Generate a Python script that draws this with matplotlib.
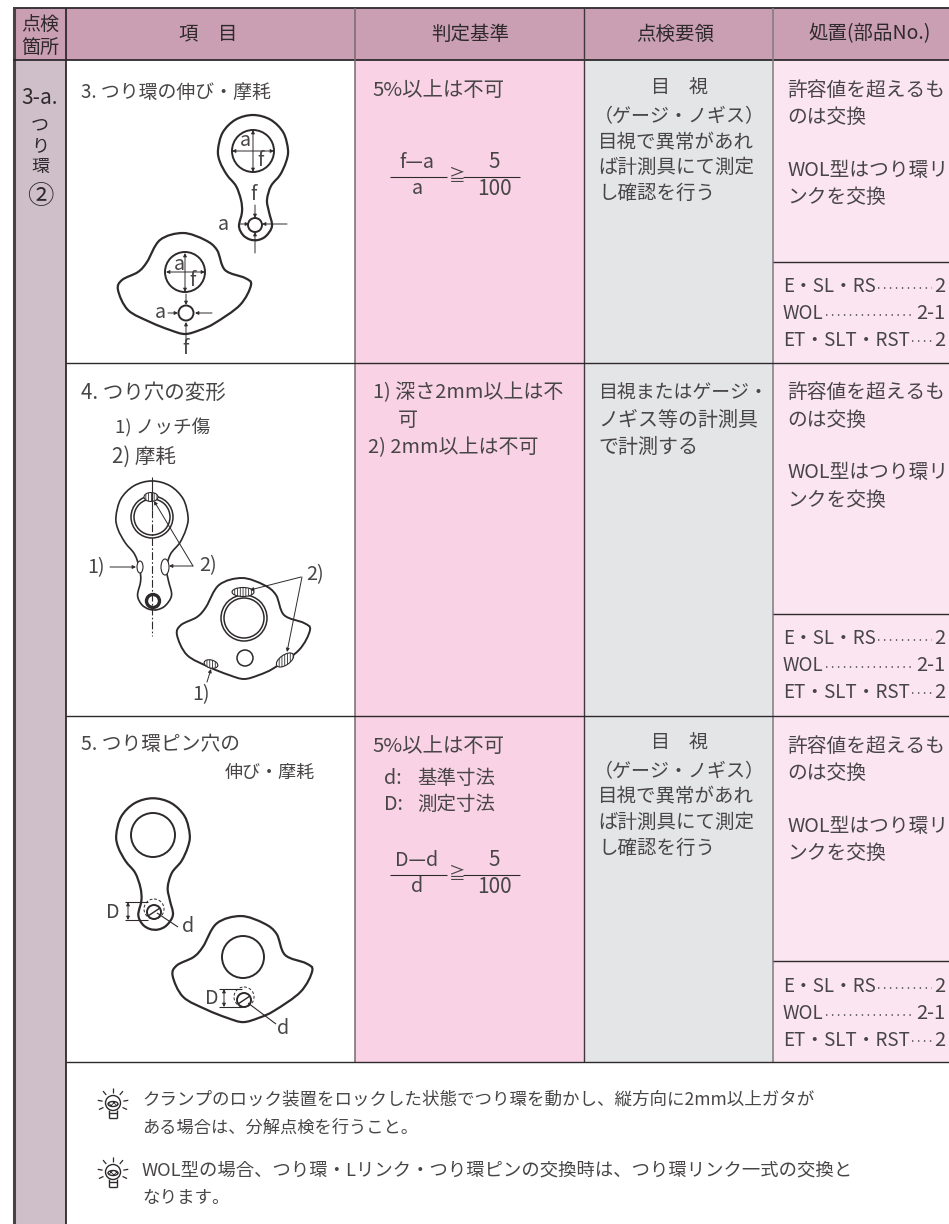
import numpy as np
import matplotlib
matplotlib.use("Agg")
import matplotlib.pyplot as plt
from matplotlib.path import Path
from matplotlib.patches import PathPatch, Circle, Ellipse, Rectangle

plt.rcParams['font.family'] = ['Noto Sans CJK JP', 'DejaVu Sans']
plt.rcParams['hatch.linewidth'] = 0.6

# table text
headers = ["項　目", "判定基準", "点検要領", "処置(部品No.)"]
place_labels = ["つ", "り", "環"]
item_titles = ["3. つり環の伸び・摩耗", "4. つり穴の変形", "5. つり環ピン穴の"]
visual_check = ["（ゲージ・ノギス）", "目視で異常があれ", "ば計測具にて測定", "し確認を行う"]
gauge_check = ["目視またはゲージ・", "ノギス等の計測具", "で計測する"]
action_lines = ["許容値を超えるも", "のは交換", "WOL型はつり環リ", "ンクを交換"]
parts_names = ["E・SL・RS", "WOL", "ET・SLT・RST"]
parts_numbers = ["2", "2-1", "2"]
note_lines = ["クランプのロック装置をロックした状態でつり環を動かし、縦方向に2mm以上ガタが",
              "ある場合は、分解点検を行うこと。",
              "WOL型の場合、つり環・Lリンク・つり環ピンの交換時は、つり環リンク一式の交換と",
              "なります。"]

INK = "#484547"
DARK = "#2E2A2C"
HEAD = "#CB9FB3"
SIDE = "#CFBFC8"
PINK = "#F9D3E5"
GREY = "#E4E5E7"
PALE = "#FBE5F0"
LINE = "#2E2A2C"
FS = 14.2

# outlines, relative to the large hole
ring_outline = [(0, -35), (-17.5, -30.3), (-30.3, -17.5), (-35, 0), (-33, 12), (-26, 25), (-17, 36),
                (-12, 50), (-11, 62), (-14, 76), (-10, 85), (-3, 89.5), (5, 90), (13, 86), (19, 76),
                (16, 62), (14, 50), (18, 36), (27, 25), (33, 12), (35, 0), (30.3, -17.5), (17.5, -30.3)]
fan_outline = [(-2, -39), (-25, -32), (-38, -10), (-47, 0), (-63, 8), (-67, 18), (-57, 38), (-35, 50),
               (-15, 58), (0, 62), (15, 58), (30, 51), (55, 33), (66, 13), (60, 6), (40, -2),
               (32, -22), (20, -32)]

fig = plt.figure(figsize=(9.49, 12.24), dpi=100)
ax = fig.add_axes([0, 0, 1, 1])
ax.set_xlim(0, 949)
ax.set_ylim(1224, 0)
ax.axis("off")


def rect(x0, y0, x1, y1, color):
    ax.add_patch(Rectangle((x0, y0), x1 - x0, y1 - y0, fc=color, ec="none", zorder=0))


def txt(x, y, s, ha="left", size=FS, **kw):
    return ax.text(x, y, s, ha=ha, va="center", fontsize=size, color=kw.pop("color", INK), **kw)


def line(x0, y0, x1, y1, lw=0.8, color=LINE, **kw):
    ax.plot([x0, x1], [y0, y1], color=color, lw=lw, solid_capstyle="butt", **kw)


def arrow(x0, y0, x1, y1, both=False):
    ax.annotate("", xy=(x1, y1), xytext=(x0, y0),
                arrowprops=dict(arrowstyle="<|-|>" if both else "-|>", lw=0.7, color=LINE,
                                mutation_scale=5, shrinkA=0, shrinkB=0))


def smooth(points, cx, cy, scale=1.0, lw=1.6):
    pts = np.array(points, dtype=float) * scale + (cx, cy)
    n = len(pts)
    verts = [pts[0]]
    codes = [Path.MOVETO]
    for i in range(n):
        p0, p1, p2, p3 = pts[i - 1], pts[i], pts[(i + 1) % n], pts[(i + 2) % n]
        verts += [p1 + (p2 - p0) / 6, p2 - (p3 - p1) / 6, p2]
        codes += [Path.CURVE4] * 3
    ax.add_patch(PathPatch(Path(verts, codes), fc="none", ec=LINE, lw=lw))


def circle(x, y, r, lw=1.4, **kw):
    ax.add_patch(Circle((x, y), r, fc=kw.pop("fc", "none"), ec=LINE, lw=lw, **kw))


def fraction(cx, y, top, bottom):
    txt(cx, y - 15, top, ha="center")
    txt(cx, y + 12, bottom, ha="center")
    line(cx - 27, y, cx + 30, y)
    txt(cx + 39, y - 1, "≧", ha="center", size=12)
    txt(cx + 77, y - 15, "5", ha="center", size=15)
    txt(cx + 77, y + 12, "100", ha="center", size=15)
    line(cx + 46, y, cx + 103, y)


def parts(y0):
    r = fig.canvas.get_renderer()
    for i, (name, no) in enumerate(zip(parts_names, parts_numbers)):
        y = y0 + i * 26.5
        t = txt(783, y, name, size=13.5)
        n = txt(945, y, no, ha="right", size=14.5)
        x0 = t.get_window_extent(r).x1 + 2
        x1 = n.get_window_extent(r).x0 - 2
        ax.plot([x0, x1], [y + 1, y + 1], color=INK, lw=1.1, ls=(0, (0.9, 3.0)))


def bulb(x, y):
    circle(x, y, 7.5, lw=1.0)
    ax.add_patch(Ellipse((x, y + 1), 10, 5, fc="none", ec=LINE, lw=1.0, hatch="xxxxxx"))
    line(x - 4, y + 7, x - 4, y + 15, lw=1.0)
    line(x + 4, y + 7, x + 4, y + 15, lw=1.0)
    line(x - 4, y + 15, x + 4, y + 15, lw=1.0)
    line(x - 4, y + 10, x + 4, y + 10, lw=1.0)
    for a in [-90, -50, -130, -10, -170, 25, 155]:
        c, s = np.cos(np.radians(a)), np.sin(np.radians(a))
        line(x + 10.5 * c, y + 10.5 * s, x + 15.5 * c, y + 15.5 * s, lw=0.9)


def hatch(x, y, w, h, angle=0):
    ax.add_patch(Ellipse((x, y), w, h, angle=angle, fc="white", ec=LINE, lw=0.8, hatch="||||||"))


# backgrounds
rect(13, 8, 949, 60, HEAD)
rect(13, 60, 66, 1224, SIDE)
rect(355, 60, 584, 1062, PINK)
rect(584, 60, 773, 1062, GREY)
rect(773, 60, 949, 1062, PALE)

# rules
line(13, 8, 949, 8, lw=1.3)
line(14, 8, 14, 1224, lw=2.2, color="#4A4145")
line(66, 8, 66, 1224, lw=1.3)
line(13, 60, 949, 60, lw=1.3)
line(355, 8, 355, 1062, lw=1.1, color="#75696E")
line(584, 8, 584, 1062, lw=1.0, color="#3E383B")
line(773, 8, 773, 1062, lw=1.1, color="#7F7A7C")
for y in [363, 716, 1062]:
    line(66, y, 949, y, lw=1.0)
for y in [262, 614, 961]:
    line(773, y, 949, y, lw=1.0)

# header and first column
txt(40, 25, "点検", ha="center", size=13.7, color=DARK)
txt(40, 47, "箇所", ha="center", size=13.7, color=DARK)
for x, h in zip([208, 470, 675, 870], headers):
    txt(x, 34, h, ha="center", size=14, color=DARK)
txt(40, 98, "3-a.", ha="center", size=15, color=DARK)
for y, s in zip([125, 146, 167], place_labels):
    txt(40, y, s, ha="center", size=13, color=DARK)
txt(40, 197, "②", ha="center", size=19, color=DARK)

# items
txt(81, 92, item_titles[0], size=13.6)
txt(81, 393, item_titles[1], size=14.8)
txt(115, 428, "1) ノッチ傷", size=13.4)
txt(112, 457, "2) 摩耗", size=14.8)
txt(81, 745, item_titles[2], size=14.2)
txt(225, 773, "伸び・摩耗", size=13)

# criteria
txt(372, 91, "5%以上は不可", size=14.7)
fraction(417, 177, "f—a", "a")
txt(373, 393, "1) 深さ2mm以上は不", size=14.4)
txt(398, 420, "可", size=14.4)
txt(368, 448, "2) 2mm以上は不可", size=14.4)
txt(372, 746, "5%以上は不可", size=14.7)
txt(384, 778, "d:")
txt(417, 778, "基準寸法", size=14)
txt(384, 804, "D:")
txt(417, 804, "測定寸法", size=14)
fraction(417, 875, "D—d", "d")

# inspection method
for y0 in [88, 743]:
    txt(680, y0, "目　視", ha="center", size=13.7)
    txt(679, y0 + 29, visual_check[0], ha="center", size=13.7)
    for i, s in enumerate(visual_check[1:]):
        txt(598, y0 + 54 + i * 25.5, s, size=14)
for y, s, size in zip([393, 420, 447], gauge_check, [13.6, 14.4, 14.4]):
    txt(598, y, s, size=size)

# action
for y0, y1 in zip([90, 393, 746], [287, 639, 987]):
    for s, dy in zip(action_lines, [0, 27, 80, 107]):
        txt(787, y0 + dy, s, size=14.2)
    parts(y1)

# notes
for y, s, size in zip([1100, 1128, 1170, 1198], note_lines, [12.6, 12.4, 13.2, 12.6]):
    txt(142, y, s, size=size)
bulb(113, 1103)
bulb(113, 1172)

# section 3 drawings
smooth(ring_outline, 253, 150)
circle(253, 151, 21)
circle(255, 225, 7)
arrow(253, 130, 253, 172, both=True)
arrow(232, 151, 274, 151, both=True)
txt(245, 141, "a", ha="center")
txt(261, 161, "f", ha="center")
txt(254, 195, "f", ha="center")
arrow(255, 205, 255, 218)
arrow(255, 253, 255, 232)
txt(223, 224, "a", ha="center")
arrow(239, 224, 249, 224)
arrow(287, 224, 262, 224)

smooth(fan_outline, 185, 272)
circle(185, 272, 20)
circle(186, 313, 7.5)
arrow(185, 253, 185, 292, both=True)
arrow(166, 272, 205, 272, both=True)
txt(179, 264, "a", ha="center")
txt(193, 281, "f", ha="center")
arrow(186, 294, 186, 305)
arrow(186, 342, 186, 322)
txt(186, 349, "f", ha="center")
txt(160, 312, "a", ha="center")
arrow(168, 313, 178, 313)
arrow(212, 313, 195, 313)

# section 4 drawings
smooth(ring_outline, 152, 517, scale=1.03, lw=1.2)
circle(152, 517, 21, lw=1.1)
circle(152, 517, 18, lw=1.1)
circle(153, 601, 6.5, lw=2.4)
hatch(151, 497, 14, 9)
line(152, 477, 152, 510)
ax.plot([152, 152], [510, 636], color=LINE, lw=0.8, ls=(0, (7, 2, 1.5, 2)))
txt(96, 568, "1)", ha="center")
arrow(110, 567, 136, 567)
ax.add_patch(Ellipse((140, 567), 6, 12, fc="white", ec=LINE, lw=0.8))
ax.add_patch(Ellipse((165, 567), 8, 16, fc="white", ec=LINE, lw=0.8))
txt(208, 566, "2)", ha="center")
arrow(193, 566, 169, 566)
arrow(193, 566, 154, 501)

smooth(fan_outline, 244, 617, lw=1.4)
circle(244, 618, 23, lw=1.1)
circle(244, 618, 20, lw=1.1)
circle(245, 658, 8, lw=1.1)
hatch(243, 592, 22, 9)
hatch(285, 660, 20, 10, angle=-35)
hatch(211, 664, 14, 8, angle=15)
txt(315, 575, "2)", ha="center")
arrow(301, 577, 250, 590)
arrow(302, 577, 287, 652)
txt(201, 695, "1)", ha="center")
arrow(207, 682, 211, 669)

# section 5 drawings
smooth(ring_outline, 153, 835, scale=1.05)
circle(153, 835, 22)
circle(154, 912, 7)
ax.add_patch(Circle((154, 909), 10, fc="none", ec=LINE, lw=0.7, ls=(0, (3, 2))))
line(148, 916, 160, 908, lw=1.0)
txt(113, 912, "D", ha="center")
line(125, 902, 148, 902)
line(125, 920, 148, 920)
arrow(128, 902, 128, 920, both=True)
line(157, 913, 178, 927)
txt(188, 926, "d", ha="center")

smooth(fan_outline, 243, 957, scale=1.05)
circle(243, 957, 21)
circle(244, 1000, 7)
ax.add_patch(Circle((244, 997), 10, fc="none", ec=LINE, lw=0.7, ls=(0, (3, 2))))
line(238, 1004, 250, 996, lw=1.0)
txt(212, 998, "D", ha="center")
line(219, 989, 242, 989)
line(219, 1007, 242, 1007)
arrow(224, 989, 224, 1007, both=True)
line(248, 1003, 276, 1024)
txt(283, 1029, "d", ha="center")

fig.savefig("out.png", dpi=100)
